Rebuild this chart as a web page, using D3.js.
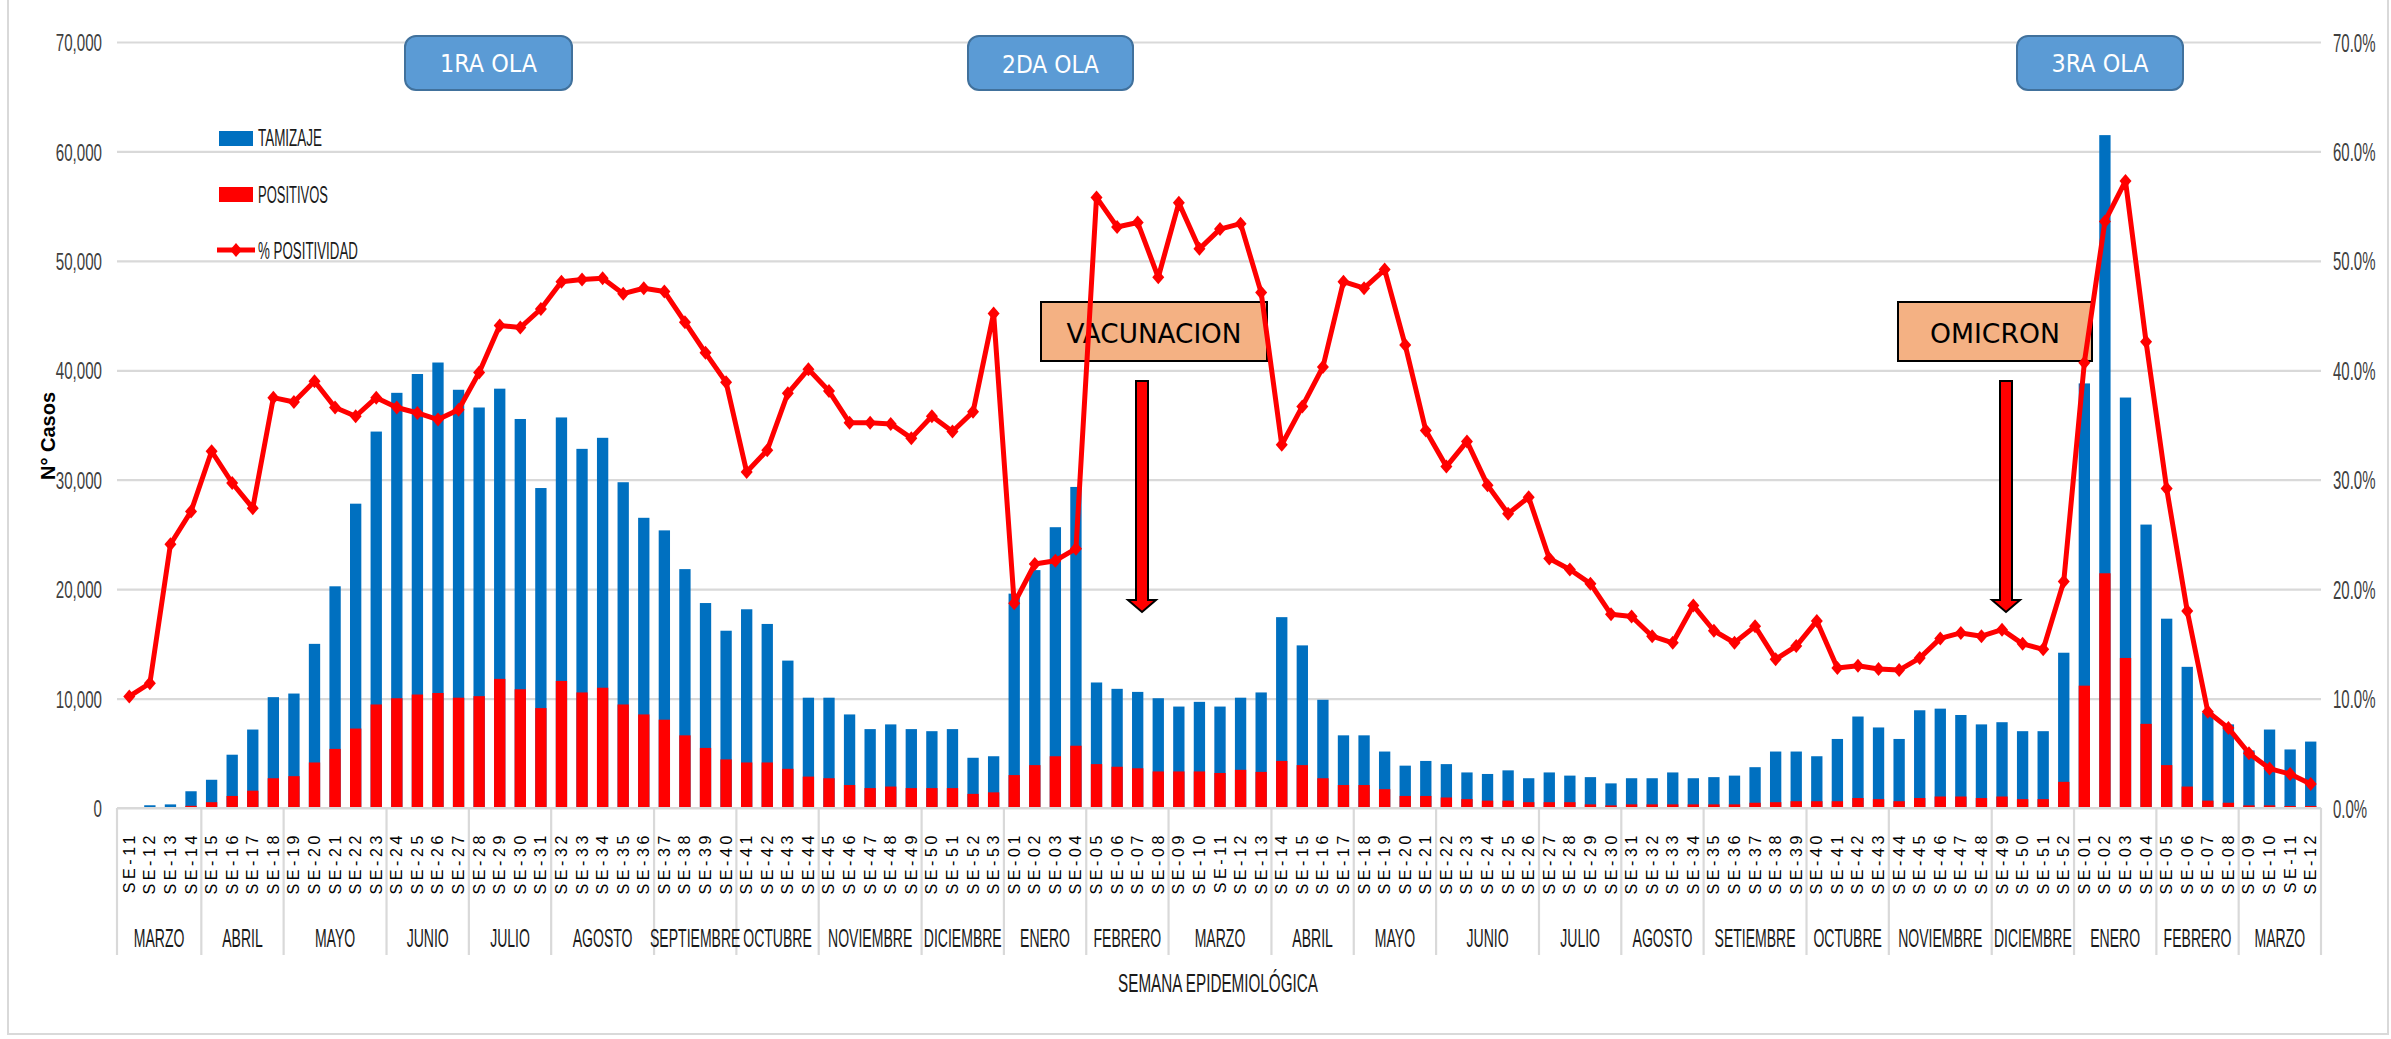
<!DOCTYPE html>
<html><head><meta charset="utf-8">
<script src="https://cdn.jsdelivr.net/npm/d3@7"></script>
<style>body{margin:0;background:#fff}svg{display:block}</style>
</head><body>
<svg id="c" width="2391" height="1039"></svg>
<script>
// ---------- DATA ----------
const weekNums2020 = d3.range(11, 54);
const weekNums2021 = d3.range(1, 53);
const weekNums2022 = d3.range(1, 13);

const tamizaje2020 = [0,250,330,1530,2580,4870,7170,10130,10460,15000,20260,27810,34400,37940,39660,40710,38220,36600,38320,35550,29240,35690,32820,33830,29770,26520,25370,21830,18730,16200,18160,16820,13470,10080,10080,8550,7210,7640,7210,7020,7210,4590,4730];
const positivos2020 = [0,0,50,200,530,1100,1580,2720,2910,4160,5400,7260,9460,10030,10370,10510,10080,10220,11800,10850,9130,11610,10560,10990,9460,8550,8070,6640,5490,4440,4160,4160,3580,2870,2720,2100,1820,1960,1820,1820,1820,1290,1430];
const positividad2020 = [10.2,11.4,24.1,27.1,32.6,29.7,27.4,37.5,37.1,39.0,36.6,35.8,37.5,36.6,36.1,35.5,36.4,39.8,44.1,43.9,45.6,48.1,48.3,48.4,47.0,47.5,47.2,44.4,41.6,38.9,30.7,32.7,37.9,40.1,38.1,35.2,35.2,35.1,33.8,35.8,34.4,36.2,45.2];

const tamizaje2021 = [19590,21740,25660,29340,11470,10890,10610,10030,9270,9700,9270,10080,10560,17440,14860,9890,6640,6640,5160,3870,4300,4010,3250,3110,3440,2720,3250,2960,2820,2250,2720,2720,3250,2720,2820,2960,3730,5160,5160,4730,6310,8360,7360,6310,8930,9080,8500,7640,7840,7020,7020,14190];
const positivos2021 = [3010,3920,4730,5690,4010,3770,3630,3340,3340,3340,3200,3490,3300,4300,3920,2720,2100,2100,1720,1100,1100,960,810,670,670,530,530,530,330,240,330,330,330,330,330,330,480,530,620,620,620,910,810,620,910,1050,1050,910,1050,810,810,2390];
const positividad2021 = [18.7,22.3,22.6,23.7,55.8,53.1,53.5,48.5,55.3,51.1,52.9,53.4,47.1,33.2,36.7,40.3,48.1,47.5,49.2,42.3,34.5,31.2,33.5,29.5,26.9,28.4,22.8,21.8,20.5,17.7,17.5,15.7,15.1,18.5,16.2,15.1,16.6,13.6,14.8,17.1,12.8,13.0,12.7,12.6,13.7,15.5,16.0,15.7,16.3,15.0,14.5,20.7];

const tamizaje2022 = [38800,61490,37510,25900,17300,12900,8700,7640,5260,7170,5350,6070];
const positivos2022 = [11180,21450,13710,7690,3920,1960,670,480,240,240,190,190];
const positividad2022 = [40.7,53.6,57.3,42.6,29.2,18.0,8.8,7.3,5.0,3.6,3.1,2.2];

const monthLabels = ["MARZO","ABRIL","MAYO","JUNIO","JULIO","AGOSTO","SEPTIEMBRE","OCTUBRE","NOVIEMBRE","DICIEMBRE",
  "ENERO","FEBRERO","MARZO","ABRIL","MAYO","JUNIO","JULIO","AGOSTO","SETIEMBRE","OCTUBRE","NOVIEMBRE","DICIEMBRE",
  "ENERO","FEBRERO","MARZO"];
const monthWeekCounts = [4,4,5,4,4,5,4,4,5,4, 4,4,5,4,4,5,4,4,5,4,5,4, 4,4,4];

const yTicks = [0,10000,20000,30000,40000,50000,60000,70000];
const y2Ticks = [0,10,20,30,40,50,60,70];

const waveLabels = ["1RA OLA","2DA OLA","3RA OLA"];
const noteLabels = ["VACUNACION","OMICRON"];
const legendLabels = ["TAMIZAJE","POSITIVOS","% POSITIVIDAD"];

// ---------- BUILD ----------
const fmtWeek = n => "SE-" + String(n).padStart(2, "0");
const weeks = [].concat(weekNums2020.map(fmtWeek), weekNums2021.map(fmtWeek), weekNums2022.map(fmtWeek));
const tam = [].concat(tamizaje2020, tamizaje2021, tamizaje2022);
const pos = [].concat(positivos2020, positivos2021, positivos2022);
const pct = [].concat(positividad2020, positividad2021, positividad2022);
const data = weeks.map((w, i) => ({i, w, tam: tam[i], pos: pos[i], pct: pct[i]}));
const N = data.length;

const svg = d3.select("#c");
const FONT = "'Liberation Sans', Arial, sans-serif";
const GRID = "#D9D9D9";
const L = 119, R = 2321, Y0 = 808, YT = 42;

// horizontal condensing via transform, anchored at the text's x
function squeezeBy(sel, ratio) {
  sel.each(function () {
    const x0 = +(this.getAttribute("x") || 0);
    const prev = this.getAttribute("transform") || "";
    this.setAttribute("transform", `${prev} translate(${x0},0) scale(${ratio},1) translate(${-x0},0)`);
  });
}
function squeezeTo(sel, width) {
  sel.each(function () {
    const w = this.getComputedTextLength();
    squeezeBy(d3.select(this), width / w);
  });
}

// frame
svg.append("rect").attr("x", 8).attr("y", -2).attr("width", 2380).attr("height", 1036)
  .attr("fill", "none").attr("stroke", GRID).attr("stroke-width", 2);

const x = d3.scaleBand().domain(d3.range(N)).range([L, R]).paddingInner(0.45).paddingOuter(0.225);
const y = d3.scaleLinear().domain([0, 70000]).range([Y0, YT]);
const y2 = d3.scaleLinear().domain([0, 70]).range([Y0, YT]);
const bw = x.bandwidth();
const cx = i => x(i) + bw / 2;

// left axis + grid
const gl = svg.append("g").attr("transform", `translate(${L - 2},0)`)
  .call(d3.axisLeft(y).tickValues(yTicks).tickSize(-(R - L + 2)).tickPadding(15).tickFormat(d3.format(",")));
gl.select(".domain").remove();
gl.selectAll(".tick line").attr("stroke", GRID).attr("stroke-width", 2.2);
gl.selectAll(".tick text").attr("font-family", FONT).attr("font-size", 24).attr("fill", "#404040").attr("dy", "0.36em");
squeezeBy(gl.selectAll(".tick text"), 0.63);

// right axis
const gr = svg.append("g").attr("transform", `translate(${R},0)`)
  .call(d3.axisRight(y2).tickValues(y2Ticks).tickSize(0).tickPadding(12).tickFormat(d => d.toFixed(1) + "%"));
gr.select(".domain").remove();
gr.selectAll(".tick text").attr("font-family", FONT).attr("font-size", 25).attr("fill", "#404040").attr("dy", "0.36em");
squeezeBy(gr.selectAll(".tick text"), 0.6);

// bars
svg.append("g").selectAll("rect").data(data).join("rect")
  .attr("x", d => x(d.i)).attr("width", bw)
  .attr("y", d => y(d.tam)).attr("height", d => Y0 - y(d.tam))
  .attr("fill", "#0070C0");
svg.append("g").selectAll("rect").data(data).join("rect")
  .attr("x", d => x(d.i)).attr("width", bw)
  .attr("y", d => y(d.pos)).attr("height", d => Y0 - y(d.pos))
  .attr("fill", "#FF0000");

// x axis line
svg.append("line").attr("x1", L - 2).attr("x2", R).attr("y1", Y0).attr("y2", Y0)
  .attr("stroke", GRID).attr("stroke-width", 2.2);

// week labels (rotated, letter-spaced)
svg.append("g").selectAll("text").data(data).join("text")
  .attr("transform", d => `translate(${cx(d.i) + 5.5},832) rotate(-90)`)
  .attr("text-anchor", "end")
  .attr("font-family", FONT).attr("font-size", 16).attr("fill", "#000")
  .attr("letter-spacing", 3.6)
  .text(d => d.w);

// month groups
const step = x.step();
const boundary = k => (k === 0 ? L - 2 : (k === N ? R : x(k) - step * 0.225));
let acc = 0;
const groups = monthWeekCounts.map((c, j) => { const g = {label: monthLabels[j], s: acc, e: acc + c}; acc += c; return g; });
const bounds = [0].concat(groups.map(g => g.e));
svg.append("g").selectAll("line").data(bounds).join("line")
  .attr("x1", k => boundary(k)).attr("x2", k => boundary(k))
  .attr("y1", Y0).attr("y2", 955).attr("stroke", GRID).attr("stroke-width", 2.2);
const ml = svg.append("g").selectAll("text").data(groups).join("text")
  .attr("x", g => (boundary(g.s) + boundary(g.e)) / 2).attr("y", 947)
  .attr("text-anchor", "middle").attr("font-family", FONT).attr("font-size", 26).attr("fill", "#1a1a1a")
  .text(g => g.label);
squeezeBy(ml, 0.54);

// axis titles
squeezeTo(svg.append("text").attr("x", 1218).attr("y", 992).attr("text-anchor", "middle")
  .attr("font-family", FONT).attr("font-size", 26).attr("fill", "#1a1a1a").text("SEMANA EPIDEMIOLÓGICA"), 200);
svg.append("text").attr("transform", "translate(55,436) rotate(-90)").attr("text-anchor", "middle")
  .attr("font-family", FONT).attr("font-size", 20).attr("font-weight", "bold").attr("fill", "#000")
  .text("N° Casos");

// wave boxes
const waveBoxes = [[405, 572], [968, 1133], [2017, 2183]];
waveLabels.forEach((t, j) => {
  const [a, b] = waveBoxes[j];
  svg.append("rect").attr("x", a).attr("y", 36).attr("width", b - a).attr("height", 54).attr("rx", 11)
    .attr("fill", "#5B9BD5").attr("stroke", "#41719C").attr("stroke-width", 2);
  squeezeTo(svg.append("text").attr("x", (a + b) / 2).attr("y", 64).attr("text-anchor", "middle")
    .attr("dominant-baseline", "central").attr("font-family", "'DejaVu Sans', sans-serif").attr("font-size", 25)
    .attr("fill", "#fff").text(t), 97);
});

// note boxes
const noteBoxes = [[1041, 1267, 175], [1898, 2092, 130]];
noteLabels.forEach((t, j) => {
  const [a, b, w] = noteBoxes[j];
  svg.append("rect").attr("x", a).attr("y", 302).attr("width", b - a).attr("height", 59)
    .attr("fill", "#F4B183").attr("stroke", "#000").attr("stroke-width", 2);
  squeezeTo(svg.append("text").attr("x", (a + b) / 2).attr("y", 333).attr("text-anchor", "middle")
    .attr("dominant-baseline", "central").attr("font-family", "'DejaVu Sans', sans-serif").attr("font-size", 27)
    .attr("fill", "#000").text(t), w);
});

// arrows
[1142, 2006].forEach(ax => {
  svg.append("path")
    .attr("d", `M${ax - 6},381 L${ax + 6},381 L${ax + 6},600 L${ax + 14},600 L${ax},612 L${ax - 14},600 L${ax - 6},600 Z`)
    .attr("fill", "#FF0000").attr("stroke", "#000").attr("stroke-width", 2).attr("stroke-linejoin", "miter");
});

// positivity line
const line = d3.line().x(d => cx(d.i)).y(d => y2(d.pct));
svg.append("path").datum(data).attr("d", line).attr("fill", "none")
  .attr("stroke", "#FF0000").attr("stroke-width", 5).attr("stroke-linejoin", "round");
const diamond = "M0,-7L6,0L0,7L-6,0Z";
svg.append("g").selectAll("path").data(data).join("path")
  .attr("transform", d => `translate(${cx(d.i)},${y2(d.pct)})`)
  .attr("d", diamond).attr("fill", "#FF0000");

// legend
const lg = svg.append("g");
lg.append("rect").attr("x", 219).attr("y", 131).attr("width", 34).attr("height", 15).attr("fill", "#0070C0");
lg.append("rect").attr("x", 219).attr("y", 187).attr("width", 34).attr("height", 15).attr("fill", "#FF0000");
lg.append("line").attr("x1", 217).attr("x2", 255).attr("y1", 250).attr("y2", 250)
  .attr("stroke", "#FF0000").attr("stroke-width", 5);
lg.append("path").attr("transform", "translate(236,250)").attr("d", diamond).attr("fill", "#FF0000");
const legY = [146, 203, 259], legW = [64, 70, 100];
legendLabels.forEach((t, j) => {
  squeezeTo(lg.append("text").attr("x", 258).attr("y", legY[j]).attr("font-family", FONT).attr("font-size", 24)
    .attr("fill", "#1a1a1a").text(t), legW[j]);
});
</script>
</body></html>
